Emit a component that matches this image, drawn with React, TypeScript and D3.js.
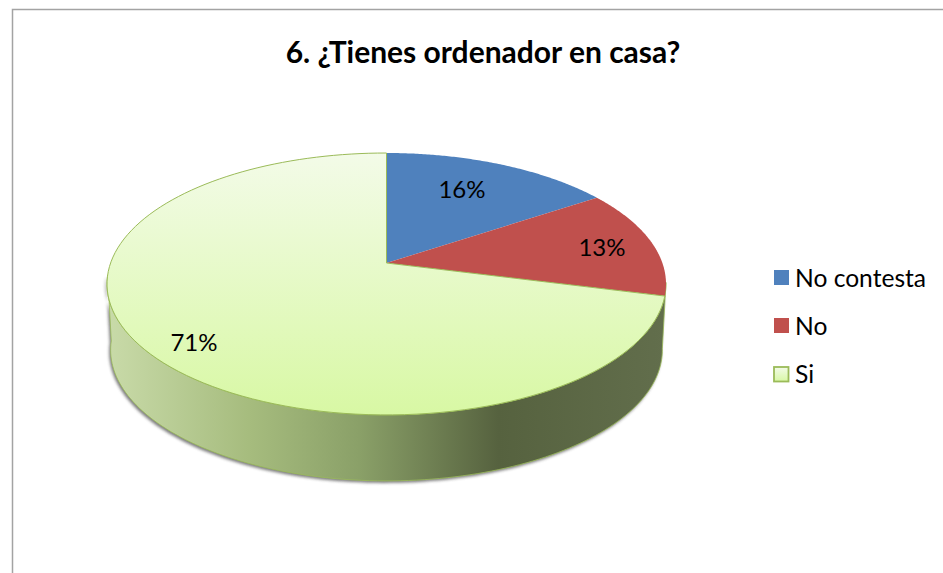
import React from "react";
import * as d3 from "d3";

const categories = ["No contesta", "No", "Si"];
const values = [15.6, 13.4, 71];
const labels = ["16%", "13%", "71%"];
const titleText = "6. ¿Tienes ordenador en casa?";
const labelPositions: [number, number][] = [[462, 190], [602, 248], [194, 343]];
const legendRows = [278, 326, 374];
const faceFills = ["#4f81bd", "#c0504d", "url(#topGrad)"];

const W = 943, H = 573;
const CX = 386.5, CY = 263, K = 275.9, S = 127.6, P = 0.16;

// Perspective projection of a point on the pie's circle (angle clockwise from top)
function project(a: number, r = 1): [number, number] {
  const u = r * Math.sin(a), v = -r * Math.cos(a);
  const d = 1 - P * v;
  return [CX + (K * u) / d, CY + (S * v) / d];
}
function base(a: number): [number, number] {
  const [x, y] = project(a);
  return [CX + (x - CX) * 0.987, y + 66];
}
const steps = (a0: number, a1: number) => d3.range(0, 121).map((i) => a0 + ((a1 - a0) * i) / 120);
const line = d3.line<[number, number]>().x((d) => d[0]).y((d) => d[1]);

const pie = d3.pie<number>().sort(null).startAngle(0).endAngle(2 * Math.PI);
const arcs = pie(values);

function slicePath(a0: number, a1: number) {
  return `M${CX},${CY}L` + (line(steps(a0, a1).map((a) => project(a))) as string).slice(1) + "Z";
}

// Visible wall: from the right tangent round the front to the left tangent
const wallStart = 1.72, wallEnd = 4.62;
const wallTop = steps(wallStart, wallEnd).map((a) => project(a));
const wallBottom = steps(wallStart, wallEnd).map((a) => base(a)).reverse();
const wallPath = (line([...wallTop, ...wallBottom]) as string) + "Z";

const wallStops: [string, string][] = [
  ["0%", "#c8daa8"],
  ["25%", "#a6bc7e"],
  ["45%", "#8aa068"],
  ["70%", "#56623f"],
  ["100%", "#626e4c"],
];

export default function App() {
  const font = "Lato, Carlito, sans-serif";
  return (
    <svg width={W} height={H} style={{ position: "absolute", left: 0, top: 0, display: "block", background: "#fff" }}>
      <defs>
        <linearGradient id="topGrad" gradientUnits="userSpaceOnUse" x1="0" y1="153" x2="0" y2="415">
          <stop offset="0%" stopColor="#f3fbe8" />
          <stop offset="100%" stopColor="#d8f8a4" />
        </linearGradient>
        <linearGradient id="wallGrad" gradientUnits="userSpaceOnUse" x1="110" y1="0" x2="665" y2="0">
          {wallStops.map(([o, c]) => <stop key={o} offset={o} stopColor={c} />)}
        </linearGradient>
        <linearGradient id="swatchGrad" x1="0" y1="0" x2="0" y2="1">
          <stop offset="0%" stopColor="#f3fbe8" />
          <stop offset="100%" stopColor="#d8f8a4" />
        </linearGradient>
        <filter id="soft" x="-5%" y="-5%" width="110%" height="115%">
          <feGaussianBlur stdDeviation="1.6" />
        </filter>
      </defs>
      <path d={`M943,9.5H12.5V573`} fill="none" stroke="#a3a3a3" strokeWidth={1.5} />
      <text x={483} y={63} textAnchor="middle" fontFamily={font} fontWeight={700} fontSize={30} fill="#000">{titleText}</text>

      <path d={wallPath} fill="#444" opacity={0.7} filter="url(#soft)" transform="translate(-1.5,2)" />
      <path d={wallPath} fill="url(#wallGrad)" stroke="#9bbb59" strokeWidth={0.8} />

      {arcs.map((d, i) => (
        <path
          key={categories[i]}
          d={slicePath(d.startAngle, d.endAngle)}
          fill={faceFills[i]}
          stroke={i === 2 ? "#9bbb59" : "none"}
          strokeWidth={i === 2 ? 1 : 0}
          strokeLinejoin="round"
        />
      ))}

      {labels.map((t, i) => (
        <text key={t} x={labelPositions[i][0]} y={labelPositions[i][1]} dy="0.35em" textAnchor="middle" fontFamily={font} fontSize={24} fill="#000">{t}</text>
      ))}

      {categories.map((c, i) => (
        <g key={c}>
          {i < 2 ? (
            <rect x={774} y={legendRows[i] - 8} width={15} height={15} fill={faceFills[i]} />
          ) : (
            <rect x={774} y={legendRows[i] - 7} width={14.5} height={14.5} fill="url(#swatchGrad)" stroke="#9bbb59" strokeWidth={1.8} />
          )}
          <text x={795} y={legendRows[i]} dy="0.35em" fontFamily={font} fontSize={24.6} fill="#000">{c}</text>
        </g>
      ))}
    </svg>
  );
}
